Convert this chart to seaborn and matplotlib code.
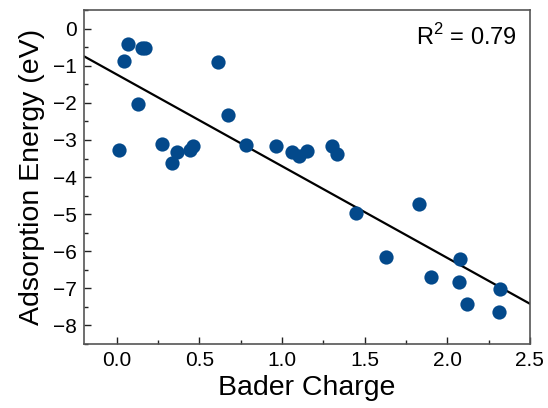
import matplotlib
matplotlib.use("Agg")
import matplotlib.pyplot as plt
import seaborn as sns
import pandas as pd
from matplotlib.ticker import MultipleLocator

bader_charge = [0.014, 0.045, 0.065, 0.155, 0.17, 0.125, 0.273, 0.334, 0.364,
                0.445, 0.459, 0.613, 0.675, 0.783, 0.965, 1.062, 1.10, 1.153,
                1.302, 1.335, 1.45, 1.83, 1.628, 2.079, 1.90, 2.069, 2.316,
                2.118, 2.31]
adsorption_energy = [-3.26, -0.86, -0.41, -0.52, -0.53, -2.03, -3.11, -3.62, -3.33,
                     -3.28, -3.17, -0.90, -2.32, -3.13, -3.15, -3.33, -3.42, -3.31,
                     -3.17, -3.37, -4.96, -4.73, -6.15, -6.20, -6.69, -6.82, -7.03,
                     -7.41, -7.65]
x_ticks = [0.0, 0.5, 1.0, 1.5, 2.0, 2.5]
y_ticks = [0, -1, -2, -3, -4, -5, -6, -7, -8]
r2_label = "R$^2$ = 0.79"

df = pd.DataFrame({"Bader Charge": bader_charge, "Adsorption Energy (eV)": adsorption_energy})

sns.set_style("ticks")
plt.rcParams['font.family'] = ['Liberation Sans', 'DejaVu Sans']
plt.rcParams['mathtext.fontset'] = 'custom'
plt.rcParams['mathtext.rm'] = 'Liberation Sans'
plt.rcParams['text.color'] = 'black'
plt.rcParams['axes.labelcolor'] = 'black'

fig = plt.figure(figsize=(5.48, 4.08), dpi=100)
ax = fig.add_axes([0.153, 0.157, 0.814, 0.818])
ax.set_xlim(-0.2, 2.5)
ax.set_ylim(-8.5, 0.5)

sns.regplot(data=df, x="Bader Charge", y="Adsorption Energy (eV)", ax=ax,
            ci=None, truncate=False,
            scatter_kws=dict(s=105, color="#03498b", linewidths=0, alpha=1, zorder=3),
            line_kws=dict(color="black", lw=1.6, zorder=2))

ax.set_xlim(-0.2, 2.5)
ax.set_ylim(-8.5, 0.5)
ax.set_xticks(x_ticks)
ax.set_xticklabels([f"{t:.1f}" for t in x_ticks])
ax.set_yticks(y_ticks)
ax.set_yticklabels([str(t).replace("-", "\u2212") for t in y_ticks])
ax.xaxis.set_minor_locator(MultipleLocator(0.25))
ax.yaxis.set_minor_locator(MultipleLocator(0.5))
ax.tick_params(which="both", direction="in", colors="#222222", labelcolor="black",
               labelsize=15, width=1)
ax.tick_params(which="major", length=5, pad=5)
ax.tick_params(which="minor", length=3)
for s in ax.spines.values():
    s.set_color("#555555")
    s.set_linewidth(1.2)
    s.set_visible(True)
ax.set_xlabel("Bader Charge", fontsize=20.5, labelpad=4, color="black")
ax.set_ylabel("Adsorption Energy (eV)", fontsize=20.5, labelpad=6, color="black")
ax.text(0.97, 0.96, r2_label, transform=ax.transAxes, ha="right", va="top",
        fontsize=17, color="black")

fig.savefig("out.png", dpi=100)
